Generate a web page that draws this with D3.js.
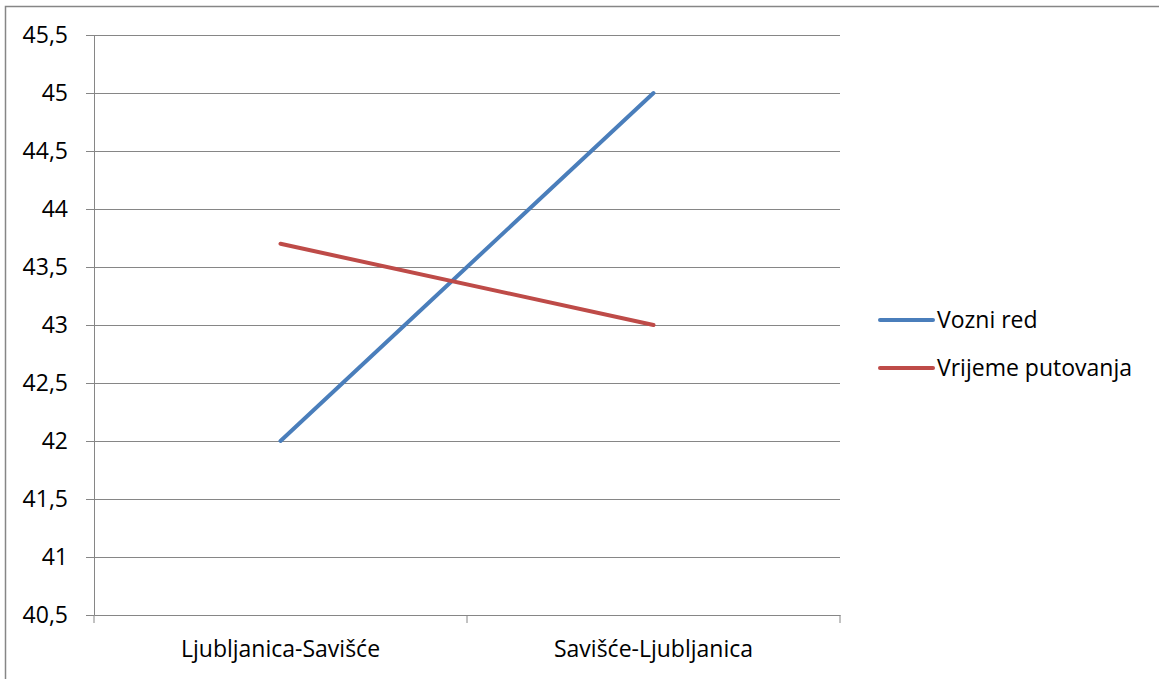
<!DOCTYPE html>
<html><head><meta charset="utf-8">
<script src="https://cdn.jsdelivr.net/npm/d3@7"></script>
<style>body{margin:0;background:#fff}svg{display:block}text{font-family:"Open Sans",sans-serif;fill:#000}</style>
</head><body><div id="c"></div>
<script>
const categories = ["Ljubljanica-Savišće", "Savišće-Ljubljanica"];
const seriesNames = ["Vozni red", "Vrijeme putovanja"];
const vozniRed = [42, 45];
const vrijemePutovanja = [43.7, 43.0];
const yTicks = [40.5, 41, 41.5, 42, 42.5, 43, 43.5, 44, 44.5, 45, 45.5];
const colors = ["#4A7EBB", "#BE4B48"];

const W = 1159, H = 679;
const FS = "23px";
const svg = d3.select("#c").append("svg").attr("width", W).attr("height", H);
svg.append("rect").attr("x", 5.5).attr("y", 6.5).attr("width", 1170).attr("height", 700)
  .attr("fill", "none").attr("stroke", "#868686").attr("stroke-width", 1.5);

const mLeft = 94, mRight = 840, mTop = 35, mBottom = 615;
const x = d3.scaleBand().domain(categories).range([mLeft, mRight]);
const y = d3.scaleLinear().domain([40.5, 45.5]).range([mBottom, mTop]);
const fmt = d => String(d).replace(".", ",");

const gy = svg.append("g").attr("transform", `translate(${mLeft},0)`)
  .call(d3.axisLeft(y).tickValues(yTicks).tickSize(8).tickFormat(fmt));
gy.select(".domain").attr("stroke", "#868686");
gy.selectAll(".tick line").attr("stroke", "#868686");
gy.selectAll(".tick text").attr("x", -26).style("font-size", FS).style("font-family", "Open Sans");

svg.append("g").selectAll("line").data(yTicks.slice(1)).join("line")
  .attr("x1", mLeft).attr("x2", mRight).attr("y1", d => Math.round(y(d)) + 0.5).attr("y2", d => Math.round(y(d)) + 0.5)
  .attr("stroke", "#868686").attr("stroke-width", 1);

const gx = svg.append("g").attr("transform", `translate(0,${mBottom})`)
  .call(d3.axisBottom(x).tickSize(0).tickPadding(26));
gx.select(".domain").attr("stroke", "#868686");
gx.selectAll(".tick text").style("font-size", FS).style("font-family", "Open Sans");
svg.append("g").selectAll("line").data([mLeft, mLeft + x.bandwidth(), mRight]).join("line")
  .attr("x1", d => d).attr("x2", d => d).attr("y1", mBottom).attr("y2", mBottom + 8)
  .attr("stroke", "#868686");

const data = [vozniRed, vrijemePutovanja];
const line = d3.line().x((d, i) => x(categories[i]) + x.bandwidth() / 2).y(d => y(d));
svg.append("g").selectAll("path").data(data).join("path")
  .attr("d", line).attr("fill", "none").attr("stroke", (d, i) => colors[i])
  .attr("stroke-width", 4).attr("stroke-linecap", "round");

const lg = svg.append("g").selectAll("g").data(seriesNames).join("g")
  .attr("transform", (d, i) => `translate(880,${320 + i * 48})`);
lg.append("line").attr("x1", 0).attr("x2", 53).attr("stroke", (d, i) => colors[i])
  .attr("stroke-width", 4).attr("stroke-linecap", "round");
lg.append("text").attr("x", 57).attr("dy", "0.35em").style("font-size", FS).text(d => d);
</script></body></html>
